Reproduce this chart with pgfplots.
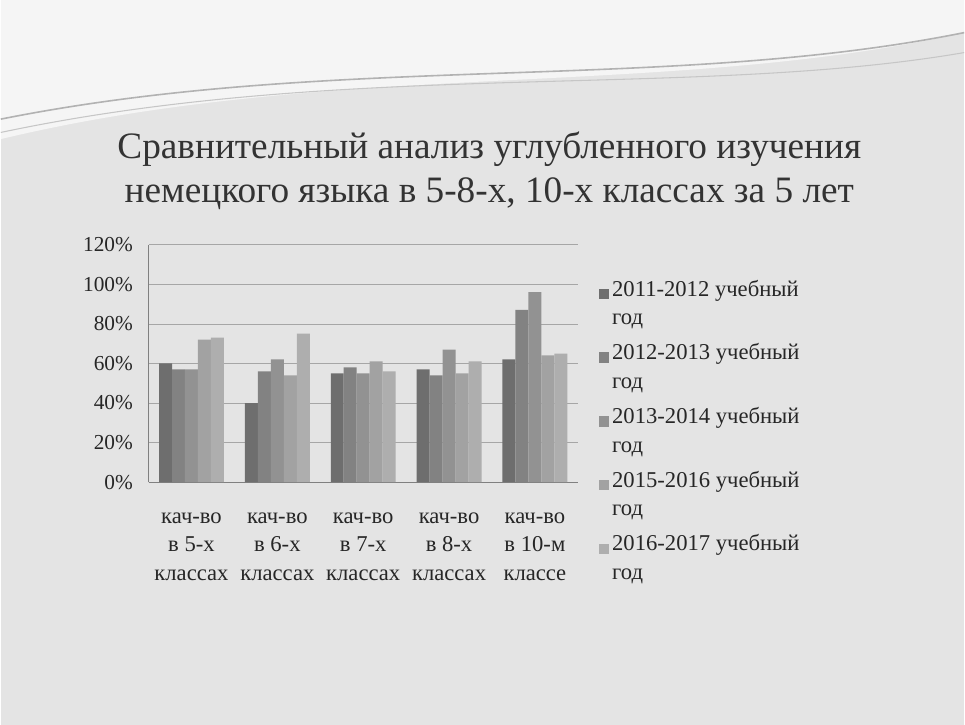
\documentclass[border=0pt]{standalone}
\usepackage{pgfplots}
\pgfplotsset{compat=1.18}
\usepackage{fontspec}
\setmainfont{Liberation Serif}
\definecolor{bgc}{HTML}{E4E4E4}
\definecolor{cA}{HTML}{6E6E6E}
\definecolor{cB}{HTML}{828282}
\definecolor{cC}{HTML}{929292}
\definecolor{cD}{HTML}{A2A2A2}
\definecolor{cE}{HTML}{AEAEAE}
\pgfplotstableread{
x y1 y2 y3 y4 y5
0 60 57 57 72 73
1 40 56 62 54 75
2 55 58 55 61 56
3 57 54 67 55 61
4 62 87 96 64 65
}\datatable
\begin{document}
\begin{tikzpicture}
\fill[bgc] (0pt,0pt) rectangle (723.75pt,544.5pt);
% slide decoration
\fill[white!92!gray] (0pt,544.5pt) -- (723.75pt,544.5pt) -- (723.75pt,520pt) .. controls (500pt,470pt) and (250pt,500pt) .. (0pt,440pt) -- cycle;
\draw[gray!60,line width=1.2pt] (0pt,455pt) .. controls (250pt,505pt) and (500pt,475pt) .. (723.75pt,520pt);
\draw[gray!45,line width=0.8pt] (0pt,445pt) .. controls (260pt,500pt) and (520pt,470pt) .. (723.75pt,505pt);
\node[font=\fontsize{28}{33}\selectfont, align=center, text=black!80] at (367pt,416pt)
  {Сравнительный анализ углубленного изучения\\немецкого языка в 5-8-х, 10-х классах за 5 лет};
\begin{axis}[
  at={(111pt,182.25pt)}, anchor=south west,
  scale only axis, width=322.5pt, height=178.5pt,
  ybar=0pt, bar width=9.75pt,
  xmin=-0.5, xmax=4.5, ymin=0, ymax=120,
  xtick=data,
  xticklabels={{кач-во\\в 5-х\\классах},{кач-во\\в 6-х\\классах},{кач-во\\в 7-х\\классах},{кач-во\\в 8-х\\классах},{кач-во\\в 10-м\\классе}},
  xticklabel style={align=center, font=\fontsize{17}{21.5}\selectfont, text=black!85, yshift=-15pt},
  x tick style={draw=none},
  minor xtick={-0.5,0.5,1.5,2.5,3.5,4.5},
  minor tick length=4pt, tick align=outside,
  minor x tick style={gray},
  ytick={0,20,...,120},
  yticklabel={\pgfmathprintnumber{\tick}\%},
  yticklabel style={font=\fontsize{16}{18}\selectfont, text=black!85, anchor=east, xshift=-4pt},
  /pgf/number format/assume math mode=true,
  y tick style={draw=none},
  ymajorgrids, grid style={gray!70},
  axis x line*=bottom, axis y line*=left,
  axis line style={gray},
  every outer x axis line/.append style={-}, every outer y axis line/.append style={-},
  legend style={at={(1.039,0.875)}, anchor=north west, draw=none, fill=none,
    font=\fontsize{17}{21.5}\selectfont, text=black!85, row sep=8.7pt,
    cells={align=left, anchor=west}},
  legend image code/.code={\fill[#1] (0pt,3pt) rectangle (8pt,11pt);},
  legend cell align=left,
]
\addplot[fill=cA, draw=none] table[x=x,y=y1] {\datatable};
\addplot[fill=cB, draw=none] table[x=x,y=y2] {\datatable};
\addplot[fill=cC, draw=none] table[x=x,y=y3] {\datatable};
\addplot[fill=cD, draw=none] table[x=x,y=y4] {\datatable};
\addplot[fill=cE, draw=none] table[x=x,y=y5] {\datatable};
\addlegendentry{2011-2012 учебный\\год}
\addlegendentry{2012-2013 учебный\\год}
\addlegendentry{2013-2014 учебный\\год}
\addlegendentry{2015-2016 учебный\\год}
\addlegendentry{2016-2017 учебный\\год}
\end{axis}
\end{tikzpicture}
\end{document}
